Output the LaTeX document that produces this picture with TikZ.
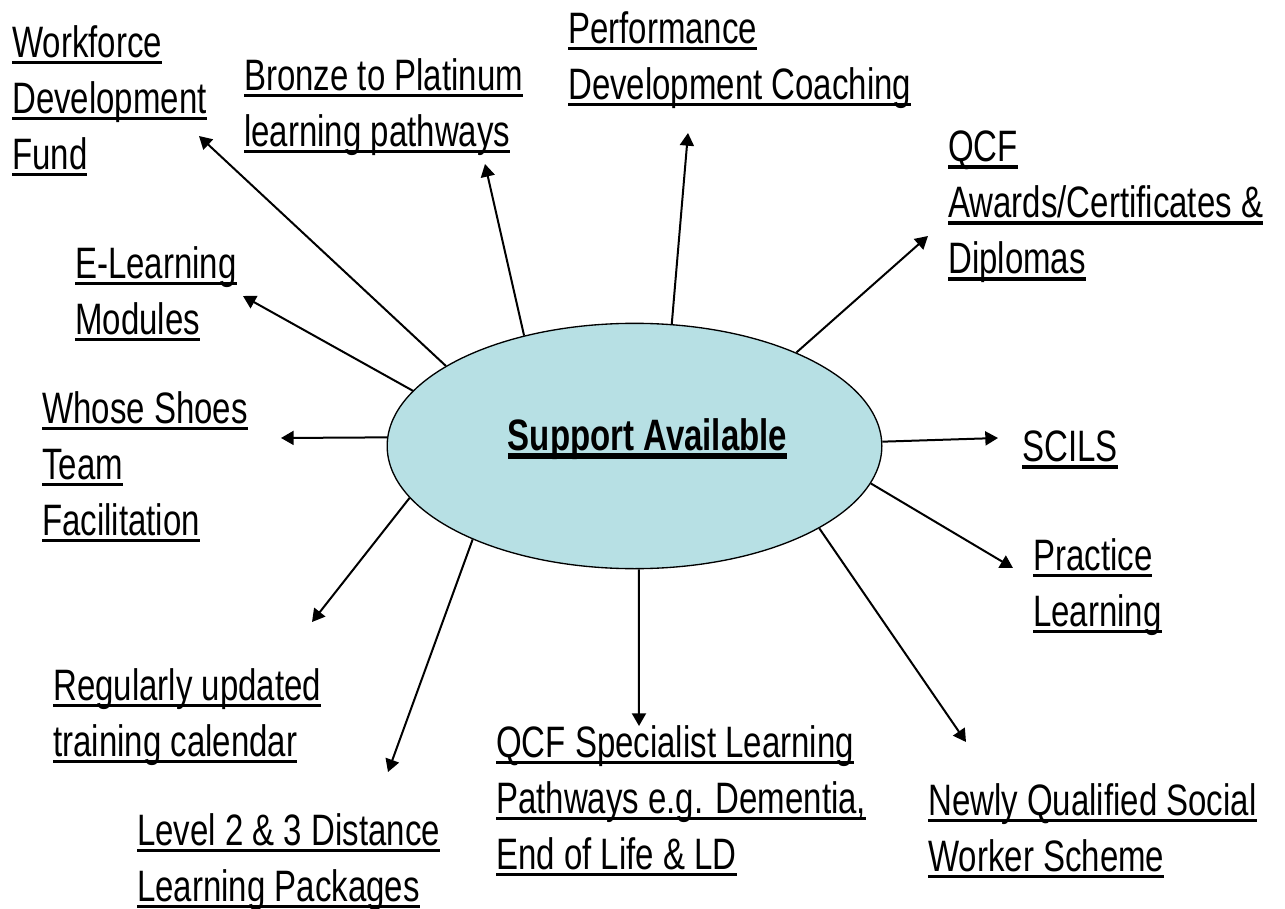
\documentclass[tikz,border=0pt]{standalone}
\usepackage{fontspec}
\setmainfont{Liberation Sans}[FakeStretch=0.75]
\usetikzlibrary{shapes.geometric,arrows.meta}
\definecolor{hubfill}{RGB}{183,224,228}
% underlined line of text, optional rule thickness
\newcommand\uln[2][2.3pt]{\setbox0\hbox{#2}\rlap{\rule[\dimexpr-2.6pt-#1\relax]{\wd0}{#1}}\rule[-6pt]{0pt}{24pt}\box0}

\begin{document}
\begin{tikzpicture}[x=0.75pt, y=-0.75pt, >={Triangle[length=9.5pt,width=10.5pt]},
    item/.style={anchor=north west, inner sep=0pt, align=left, font=\fontsize{33}{42}\selectfont},
    hub/.style={ellipse, draw, line width=1pt, fill=hubfill, inner sep=0pt,
      minimum width=371pt, minimum height=184pt},
    link/.style={->, line width=1.5pt}]
  \useasboundingbox (0,0) rectangle (1285,909);
  % Centre ellipse
  \node[hub] (hub) at (634.5,446) {};
  \node[anchor=base, inner sep=0pt, font=\fontsize{33}{42}\selectfont\bfseries] (title) at (647.5,450) {\uln[4.2pt]{Support Available}};
  % Labels round the ellipse
  \node[item] (fund) at (12,25) {\uln{Workforce}\\\uln{Development}\\\uln{Fund}};
  \node[item] (bronze) at (244,58) {\uln{Bronze to Platinum}\\\uln{learning pathways}};
  \node[item] (coach) at (568,11) {\uln{Performance}\\\uln{Development Coaching}};
  \node[item] (awards) at (948,131) {\uln{QCF}\\\uln{Awards/Certificates \&}\\\uln{Diplomas}};
  \node[item] (elearn) at (75,246) {\uln{E-Learning}\\\uln{Modules}};
  \node[item] (shoes) at (42,391) {\uln{Whose Shoes}\\\uln{Team}\\\uln{Facilitation}};
  \node[item] (scils) at (1022,431) {\uln{SCILS}};
  \node[item] (practice) at (1033,538) {\uln{Practice}\\\uln{Learning}};
  \node[item] (calendar) at (53,668) {\uln{Regularly updated}\\\uln{training calendar}};
  \node[item] (special) at (496,725) {\uln{QCF Specialist Learning}\\\uln{Pathways e.g. Dementia,}\\\uln{End of Life \& LD}};
  \node[item] (distance) at (137,813) {\uln{Level 2 \& 3 Distance}\\\uln{Learning Packages}};
  \node[item] (nqsw) at (928,783) {\uln{Newly Qualified Social}\\\uln{Worker Scheme}};
  % Arrow tips
  \coordinate (fund-tip) at (199,136);
  \coordinate (bronze-tip) at (485,164);
  \coordinate (coach-tip) at (688,133);
  \coordinate (awards-tip) at (928,236);
  \coordinate (elearn-tip) at (243,296);
  \coordinate (shoes-tip) at (281,438);
  \coordinate (scils-tip) at (998,438);
  \coordinate (practice-tip) at (1013,568);
  \coordinate (nqsw-tip) at (966,742);
  \coordinate (special-tip) at (639,726);
  \coordinate (distance-tip) at (388,772);
  \coordinate (calendar-tip) at (312,622);
  % Arrows out of the ellipse
  \draw[link] (hub.157.4) -- (fund-tip);
  \draw[link] (hub.135.9) -- (bronze-tip);
  \draw[link] (hub.73.6) -- (coach-tip);
  \draw[link] (hub.30) -- (awards-tip);
  \draw[link] (hub.166.9) -- (elearn-tip);
  \draw[link] (hub.178.1) -- (shoes-tip);
  \draw[link] (hub.1.9) -- (scils-tip);
  \draw[link] (hub.-9.1) -- (practice-tip);
  \draw[link] (hub.-24.2) -- (nqsw-tip);
  \draw[link] (hub.-88.4) -- (special-tip);
  \draw[link] (hub.-150.3) -- (distance-tip);
  \draw[link] (hub.-167.4) -- (calendar-tip);
\end{tikzpicture}
\end{document}
